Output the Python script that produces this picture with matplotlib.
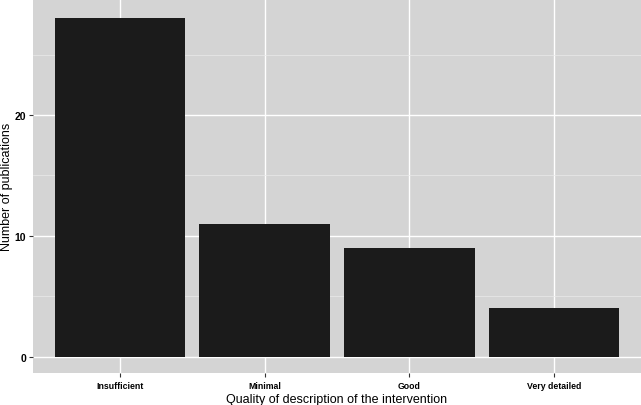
import matplotlib
matplotlib.use("Agg")
import matplotlib.pyplot as plt
from matplotlib.ticker import MultipleLocator

plt.rcParams['font.family'] = ['Liberation Sans', 'DejaVu Sans']

categories = ["Insufficient", "Minimal", "Good", "Very detailed"]
counts = [28, 11, 9, 4]

fig = plt.figure(figsize=(6.41, 4.06), dpi=100)
ax = fig.add_axes([33 / 641, 32 / 406, 608 / 641, 374 / 406])
ax.set_facecolor('#d4d4d4')

x = list(range(1, len(categories) + 1))
ax.bar(x, counts, width=0.9, color='#1b1b1b', zorder=3)

ax.set_xlim(0.4, 4.6)
ax.set_ylim(-1.35, 29.6)
ax.set_xticks(x)
ax.set_xticklabels(categories, fontsize=6.3, fontweight='bold')
ax.yaxis.set_major_locator(MultipleLocator(10))
ax.yaxis.set_minor_locator(MultipleLocator(5))
for lbl in ax.get_yticklabels():
    lbl.set_fontweight('bold')
ax.tick_params(axis='y', labelsize=7.5, length=3, color='#333333', pad=2)
ax.tick_params(axis='x', length=3, color='#333333', pad=3)
ax.tick_params(which='minor', length=0)

ax.grid(which='major', color='white', linewidth=1.0, zorder=1)
ax.grid(which='minor', axis='y', color='#eaeaea', linewidth=0.5, zorder=1)
for s in ax.spines.values():
    s.set_visible(False)

ax.set_xlabel("Quality of description of the intervention", fontsize=9, labelpad=2)
fig.text(1 / 641, ax.get_position().y0 + ax.get_position().height / 2,
         "Number of publications", fontsize=9, rotation=90,
         ha='left', va='center')

fig.savefig("out.png", dpi=100)
